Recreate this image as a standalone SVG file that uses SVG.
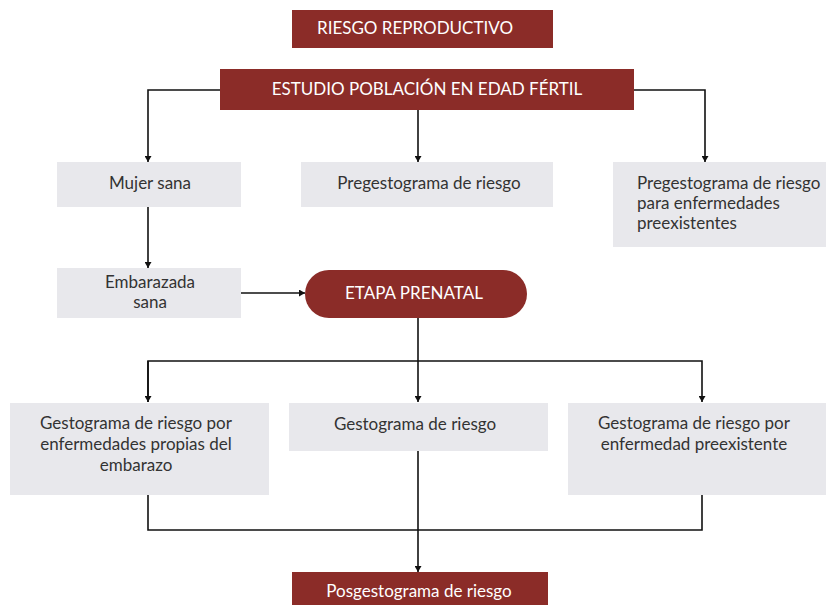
<svg xmlns="http://www.w3.org/2000/svg" width="826" height="605" viewBox="0 0 826 605">
<style>
.red{fill:#8B2C28}
.gray{fill:#E8E8EC}
.wt{fill:#FFFFFF;font-family:Lato,"Liberation Sans",sans-serif;font-size:17px;text-anchor:middle}
.dt{fill:#333333;font-family:Lato,"Liberation Sans",sans-serif;font-size:17px;text-anchor:middle}
.ln{fill:none;stroke:#111;stroke-width:1.6}
</style>
<defs>
<marker id="ah" viewBox="0 0 10 10" refX="10" refY="5" markerWidth="6" markerHeight="7" markerUnits="userSpaceOnUse" orient="auto" preserveAspectRatio="none">
<path d="M0,0 L10,5 L0,10 Z" fill="#111"/>
</marker>
</defs>
<rect width="826" height="605" fill="#FFFFFF"/>
<g id="connectors">
<path class="ln" d="M220,90 H148 V162" marker-end="url(#ah)"/>
<path class="ln" d="M418,110 V162" marker-end="url(#ah)"/>
<path class="ln" d="M634,90 H705 V162" marker-end="url(#ah)"/>
<path class="ln" d="M148,207 V268" marker-end="url(#ah)"/>
<path class="ln" d="M241,293 H305" marker-end="url(#ah)"/>
<path class="ln" d="M418,318 V402" marker-end="url(#ah)"/>
<path class="ln" d="M148,402 V361 H702 V402" marker-end="url(#ah)"/>
<path class="ln" d="M148,361 V402" marker-end="url(#ah)"/>
<path class="ln" d="M148,495 V530 H702 V495"/>
<path class="ln" d="M418,451 V572" marker-end="url(#ah)"/>
</g>
<g id="riesgo-reproductivo">
<rect class="red" x="292" y="10" width="261" height="38"/>
<text class="wt" x="415" y="34">RIESGO REPRODUCTIVO</text>
</g>
<g id="estudio-poblacion">
<rect class="red" x="220" y="69" width="414" height="41"/>
<text class="wt" x="427" y="95">ESTUDIO POBLACIÓN EN EDAD FÉRTIL</text>
</g>
<g id="mujer-sana">
<rect class="gray" x="57" y="162" width="184" height="45"/>
<text class="dt" x="150" y="189">Mujer sana</text>
</g>
<g id="pregestograma">
<rect class="gray" x="301" y="162" width="252" height="45"/>
<text class="dt" x="429" y="189">Pregestograma de riesgo</text>
</g>
<g id="pregestograma-enfermedades">
<rect class="gray" x="613" y="162" width="213" height="85"/>
<text class="dt" x="637" y="189" style="text-anchor:start">Pregestograma de riesgo</text>
<text class="dt" x="637" y="209" style="text-anchor:start">para enfermedades</text>
<text class="dt" x="637" y="229" style="text-anchor:start">preexistentes</text>
</g>
<g id="embarazada-sana">
<rect class="gray" x="57" y="268" width="184" height="50"/>
<text class="dt" x="150" y="288">Embarazada</text>
<text class="dt" x="150" y="308">sana</text>
</g>
<g id="etapa-prenatal">
<rect class="red" x="305" y="270" width="222" height="48" rx="24" ry="24"/>
<text class="wt" x="414" y="299">ETAPA PRENATAL</text>
</g>
<g id="gestograma-propias">
<rect class="gray" x="10" y="403" width="259" height="92"/>
<text class="dt" x="136" y="429">Gestograma de riesgo por</text>
<text class="dt" x="136" y="450">enfermedades propias del</text>
<text class="dt" x="136" y="471">embarazo</text>
</g>
<g id="gestograma">
<rect class="gray" x="289" y="403" width="259" height="48"/>
<text class="dt" x="415" y="430">Gestograma de riesgo</text>
</g>
<g id="gestograma-preexistente">
<rect class="gray" x="568" y="403" width="258" height="92"/>
<text class="dt" x="694" y="429">Gestograma de riesgo por</text>
<text class="dt" x="694" y="450">enfermedad preexistente</text>
</g>
<g id="posgestograma">
<rect class="red" x="292" y="572" width="256" height="33"/>
<text class="wt" x="419" y="597">Posgestograma de riesgo</text>
</g>
</svg>
